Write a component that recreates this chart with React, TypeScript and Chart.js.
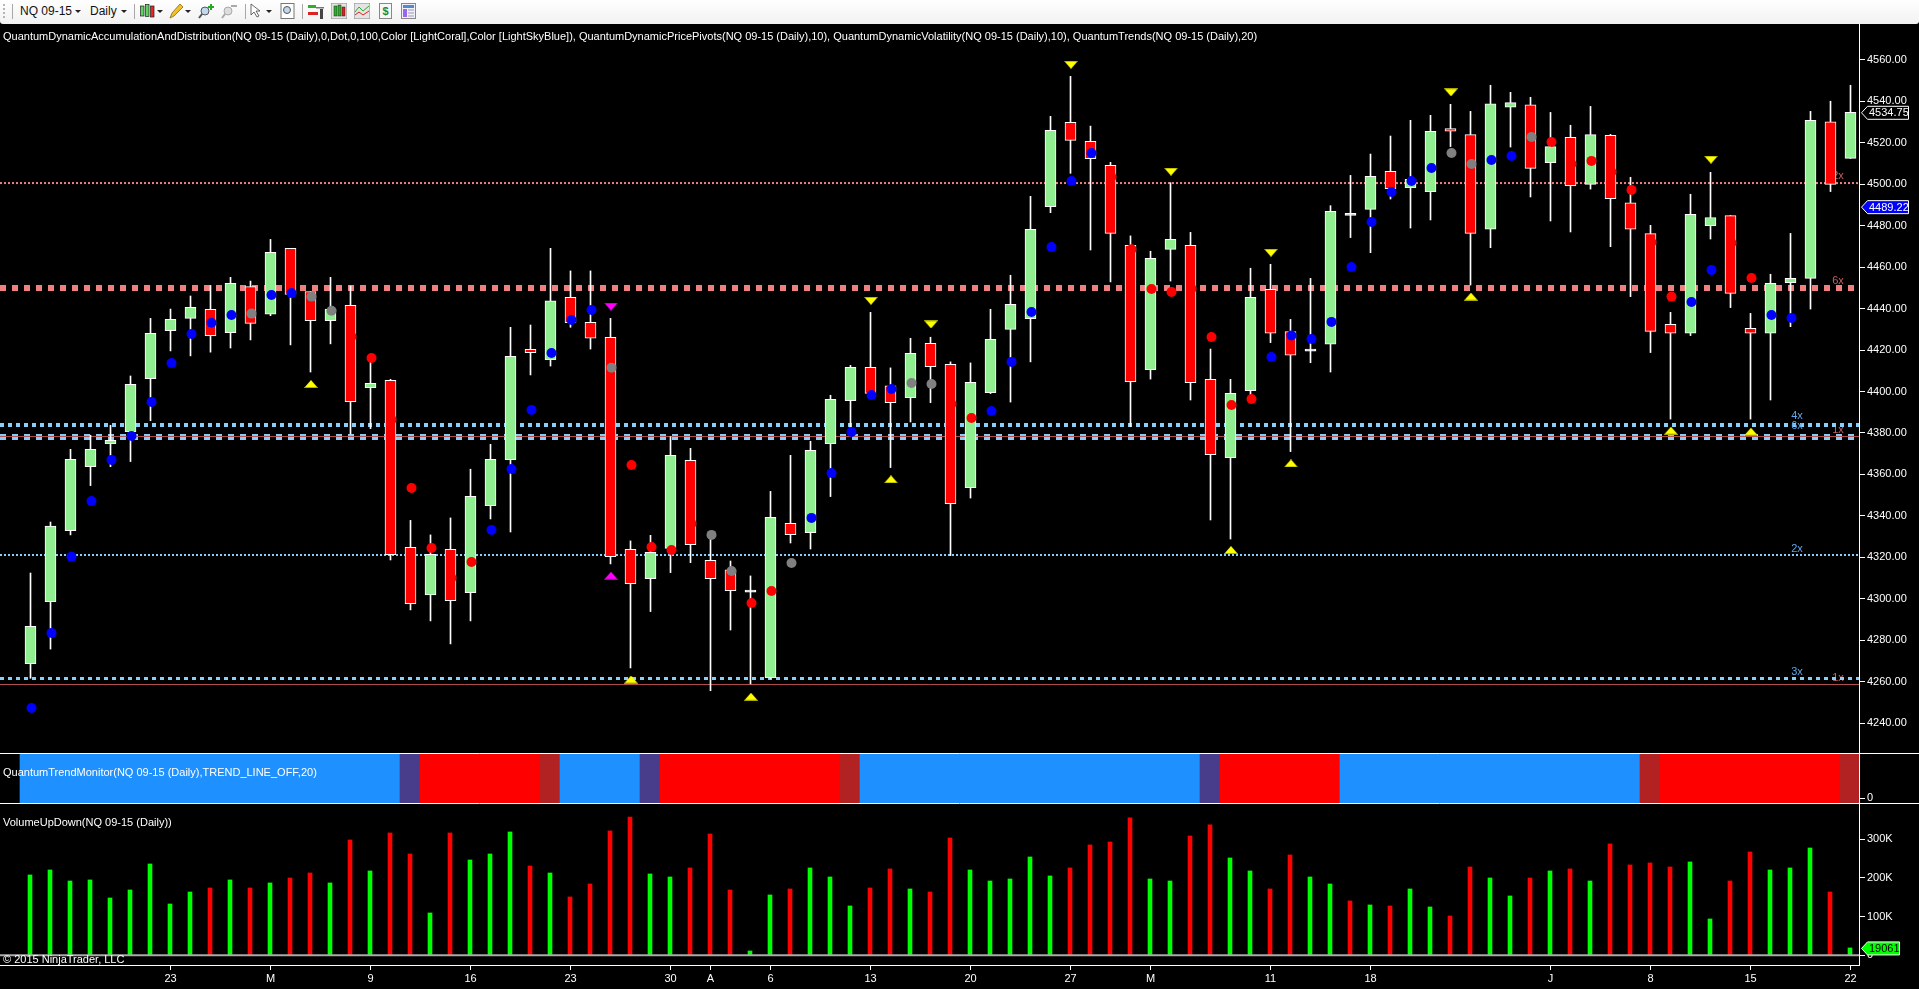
import React, { useEffect, useRef } from "react";
import { Chart, registerables } from "chart.js";

Chart.register(...registerables);

const highs = [4312.4,4337,4372.1,4378.9,4383.7,4407.5,4435.3,4439.8,4446.1,4451.2,4455.1,4453.3,4473.4,4469.1,4448.2,4455.1,4450.9,4417,4405.9,4337.8,4330.8,4339,4362.5,4374.5,4431,4432.1,4469.1,4458.2,4458.2,4435.3,4327.9,4330.6,4378.2,4372.6,4330.8,4318.2,4311,4351.8,4369.2,4376,4398.2,4412.6,4438.2,4411.4,4425.7,4426.2,4414.3,4413.8,4439.7,4456.1,4494.2,4532.8,4552.1,4528.1,4510.6,4475.1,4467.7,4500.8,4476.8,4420.5,4405.9,4459.5,4461.4,4434.8,4454.6,4489.7,4504.3,4514.6,4523.3,4530.9,4533.3,4538.6,4535.2,4547.8,4544.4,4542,4534.7,4528.5,4537.6,4524.1,4503.4,4480.2,4438.2,4495.2,4505.8,4484.9,4437.7,4456.6,4476.3,4535.2,4540.1,4547.8];
const lows = [4261.6,4275.7,4330.8,4354.6,4363.7,4366.2,4385.9,4419.6,4417.2,4419,4421,4424.9,4436.6,4422.5,4409.4,4423,4379.5,4382.1,4318.7,4294.6,4289.3,4278.2,4289.3,4338.5,4332.2,4408,4412.3,4431,4420.5,4316.8,4266.6,4293.8,4312.6,4317.4,4255.6,4284.9,4258.9,4261.3,4326.9,4324,4349.3,4381,4398,4363.3,4385.3,4394.6,4320.8,4348.6,4399,4394.9,4414.3,4486.3,4505.3,4468.3,4452.9,4383,4406,4453.3,4395.9,4338,4328.8,4398,4423.6,4371,4413.9,4409.4,4474.3,4467,4492.9,4478.9,4482.8,4518.2,4451.4,4469.4,4518,4493.9,4482.3,4477,4497.7,4469.9,4445.8,4418.8,4386.7,4427,4473.6,4440.5,4386.7,4395.9,4431.3,4439.8,4496.5,4512.5];
const opens = [4268.7,4298.6,4332.9,4363.7,4374.8,4380.6,4406.2,4429.4,4435.3,4439.7,4428.4,4450.6,4437.3,4469.1,4448.2,4434.2,4441.6,4401.9,4405.4,4324.8,4301.8,4323.8,4302.9,4344.9,4367.1,4420.4,4415.4,4445.5,4433.4,4426.2,4323.8,4309.7,4324.3,4366.8,4318.5,4313.9,4304.2,4261.9,4336.4,4331.9,4374.8,4395.6,4411.7,4402.7,4397,4423.3,4413.1,4353.6,4399.5,4430,4435.2,4489.2,4529.9,4520.7,4509.2,4470.6,4410.6,4468.6,4470.6,4405.9,4368.1,4400.4,4449.3,4428.9,4420.5,4422.8,4486,4487.9,4506.3,4498.4,4496.5,4526.9,4524,4478.3,4537.2,4538.4,4510.5,4522.7,4500,4523.6,4491.1,4476.2,4432.4,4428.1,4480,4484.9,4430.5,4428.1,4452.5,4454.6,4530.2,4512.5];
const closes = [4286.7,4335,4367.3,4372.1,4376.4,4403.5,4428.1,4434.8,4440.6,4427,4452.2,4432.9,4467.2,4446.9,4434.2,4439.8,4395.1,4404,4321.3,4297.6,4321.4,4299.1,4349.4,4367.3,4417,4418.8,4443.8,4433.2,4425.7,4320.3,4307.3,4322.4,4369.2,4326.1,4309.7,4303.9,4303.2,4339.3,4330.9,4371.6,4396.2,4411.7,4399.1,4394.6,4418.4,4412,4345.9,4404.4,4425.2,4442.1,4478.3,4526.1,4521.2,4512.4,4476.3,4404.8,4464.3,4473.4,4404.3,4369.5,4399.1,4445.5,4428.1,4417.5,4419.5,4487,4485,4503.9,4497.9,4502.4,4525.6,4525.6,4476.3,4538.9,4539.4,4507.7,4518.2,4499.4,4524,4493.1,4478.3,4429,4428.1,4485.5,4484,4447.4,4428.1,4452.2,4454.6,4530.9,4500,4534.7];

const dotValues = [4247.3,4283.5,4320.3,4347.2,4367,4378.5,4394.9,4413.8,4427.8,4433.2,4436.9,4437.6,4446.6,4447.5,4445.8,4439,4426.5,4416.2,4386.3,4353.4,4324.5,4310,4317.7,4333.2,4362.6,4391.1,4418.6,4434.5,4439.3,4411.5,4364.5,4325,4323.5,4336.2,4330.8,4313.4,4297.9,4303.7,4317.2,4339,4360.7,4380.5,4398.3,4401.2,4404.1,4403.6,4394,4387.2,4390.6,4414.3,4438.4,4469.7,4501.6,4515.1,4503.5,4468.6,4449.5,4448,4449.6,4426.3,4393.5,4396.4,4416.7,4427,4425.4,4433.6,4460.1,4481.8,4496.3,4501.6,4507.9,4515.1,4509.8,4511.7,4513.7,4522.8,4520.4,4509.8,4511.3,4505.9,4497.3,4472,4445.8,4443.2,4458.6,4471.7,4454.8,4436.9,4435.5,4464,4489.5];
const dotKinds = "BBBBBBBBBBBGBBGGRRRRRRRBBBBBBGRRRRGGRRGBBBBBGGRRBBBBBBRRRRRRRRBBBBBBBBBGGBBGRRRRRRRBBRRBB";

const pivotHighIndex = [42,45,52,57,62,71,84];
const pivotHighValue = [4443.8,4432.4,4557.7,4506.1,4467,4544.4,4511.9];
const pivotLowIndex = [14,30,36,43,60,63,72,82,86];
const pivotLowValue = [4403.6,4261,4252.7,4357.6,4323.5,4365.3,4445.8,4381.1,4380.6];
const pivotMagentaIndex = [29,29];
const pivotMagentaValue = [4441,4311.1];

const volumes = [207.6,220.5,192,194.7,148.1,168.8,236,132.6,163.6,174,194.7,174,186.9,199.8,212.7,186.9,298,217.9,316.1,261.8,109.4,316.1,246.3,261.8,318.7,230.8,212.7,150.7,184.3,321.3,357.4,210.2,202.4,225.7,313.5,168.8,11.2,155.9,171.4,225.7,202.4,127.5,174,223.1,171.4,163.6,303.2,220.5,192,197.2,254.1,205,225.7,285.1,292.8,354.9,197.2,192,308.3,336.8,251.5,217.9,171.4,259.2,202.4,184.3,140.4,130.1,127.5,171.4,124.9,101.6,228.2,199.8,153.3,199.8,217.9,223.1,192,287.7,233.4,238.6,228.2,241.2,93.9,192,267,220.5,225.7,277.3,163.6,19.061];
const volumeDirection = "GGGGGGGGGRGRGRRGRGRRGRGGGRGRRRRGGRRRGGRGGGRRGRRGGGGGRRRRGGRRGGRRGGRGRGGRRGGRGRGRRRRGGRRGGGRG";

const trendStates = "BBBBBBBBBBBBBBBBBBBPRRRRRRFBBBBPRRRRRRRRRFBBBBBBBBBBBBBBBBBPRRRRRRBBBBBBBBBBBBBBBFRRRRRRRRRF";
const trendColors: Record<string, string> = { B: "#1E90FF", P: "#483D8B", R: "#FF0000", F: "#B22222" };

const xLabelIndex = [7,12,17,22,27,32,34,37,42,47,52,56,62,67,76,81,86,91];
const xLabels = ["23","M","9","16","23","30","A","6","13","20","27","M","11","18","J","8","15","22"];
const priceTicks = [4240,4260,4280,4300,4320,4340,4360,4380,4400,4420,4440,4460,4480,4500,4520,4540,4560];
const volumeTicks = [0,100,200,300];

const lastClose = 4534.75;
const lastVolatility = 4489.22;
const lastVolume = 19.061;
const lastVolumeText = "19061";

const coralLevelDotted = 4500.6;
const coralLevelBlock = 4449.96;
const coralLevelThin = [4378.3, 4258.6];
const skyLevelA = 4383.84;
const skyLevelB = 4378.05;
const skyLevelC = 4321.1;
const skyLevelD = 4261.5;

const levelLabelsSky = [{ t: "4x", v: skyLevelA }, { t: "6x", v: skyLevelB }, { t: "2x", v: skyLevelC }, { t: "3x", v: skyLevelD }];
const levelLabelsCoral = [{ t: "2x", v: coralLevelDotted }, { t: "6x", v: coralLevelBlock }, { t: "1x", v: coralLevelThin[0] }, { t: "1x", v: coralLevelThin[1] }];

const legendText = "QuantumDynamicAccumulationAndDistribution(NQ 09-15 (Daily),0,Dot,0,100,Color [LightCoral],Color [LightSkyBlue]), QuantumDynamicPricePivots(NQ 09-15 (Daily),10), QuantumDynamicVolatility(NQ 09-15 (Daily),10), QuantumTrends(NQ 09-15 (Daily),20)";
const trendLabel = "QuantumTrendMonitor(NQ 09-15 (Daily),TREND_LINE_OFF,20)";
const volumeLabel = "VolumeUpDown(NQ 09-15 (Daily))";
const copyrightLabel = "© 2015 NinjaTrader, LLC";

const FONT = "'Liberation Sans', Arial, sans-serif";
const SKY_LABEL_LIFT = [9, 11, 6, 7];

function triangleSprite(color: string, edge: string, up: boolean) {
  const c = document.createElement("canvas");
  c.width = 14;
  c.height = 8;
  const g = c.getContext("2d")!;
  g.fillStyle = color;
  g.beginPath();
  if (up) {
    g.moveTo(7, 0); g.lineTo(14, 8); g.lineTo(0, 8);
  } else {
    g.moveTo(7, 8); g.lineTo(14, 0); g.lineTo(0, 0);
  }
  g.closePath();
  g.fill();
  g.fillStyle = edge;
  g.fillRect(1, up ? 7 : 0, 12, 1);
  return c;
}

const X_MIN = -1.525;
const X_MAX = 91.425;
const BAR_SHIFT = -0.025;
const DOT_SHIFT = 0.05;

function levelLine(v: number, color: string, width: number, dash: number[], order: number) {
  return {
    type: "line" as const,
    yAxisID: "price",
    xAxisID: "x",
    data: [{ x: X_MIN, y: v }, { x: X_MAX, y: v }],
    borderColor: color,
    borderWidth: width,
    borderDash: dash,
    pointRadius: 0,
    fill: false,
    order,
  };
}

function flag(ctx: CanvasRenderingContext2D, x: number, y: number, w: number, fill: string, stroke: string, text: string, textColor: string) {
  const h = 13;
  ctx.save();
  ctx.beginPath();
  ctx.moveTo(x + 0.5, y + 0.5);
  ctx.lineTo(x + 6.5, y - h / 2 + 0.5);
  ctx.lineTo(x + w + 0.5, y - h / 2 + 0.5);
  ctx.lineTo(x + w + 0.5, y + h / 2 + 0.5);
  ctx.lineTo(x + 6.5, y + h / 2 + 0.5);
  ctx.closePath();
  ctx.fillStyle = fill;
  ctx.fill();
  ctx.strokeStyle = stroke;
  ctx.lineWidth = 1;
  ctx.stroke();
  ctx.fillStyle = textColor;
  ctx.font = `11px ${FONT}`;
  ctx.textAlign = "left";
  ctx.textBaseline = "middle";
  ctx.fillText(text, x + 8, y + 1);
  ctx.restore();
}

const backPlugin = {
  id: "levelLabels",
  beforeDatasetsDraw(chart: any) {
    const { ctx, scales } = chart;
    ctx.save();
    ctx.font = `11px ${FONT}`;
    ctx.textAlign = "center";
    ctx.textBaseline = "middle";
    ctx.fillStyle = "#CC5C5C";
    levelLabelsCoral.forEach((l) => ctx.fillText(l.t, 1838, scales.price.getPixelForValue(l.v) - 7));
    ctx.restore();
  },
};

const frontPlugin = {
  id: "frontDecor",
  afterDatasetsDraw(chart: any) {
    const { ctx, scales, chartArea } = chart;
    ctx.save();
    ctx.font = `11px ${FONT}`;
    ctx.textAlign = "center";
    ctx.textBaseline = "middle";
    ctx.fillStyle = "#5FA5E8";
    levelLabelsSky.forEach((l, i) => ctx.fillText(l.t, 1797, scales.price.getPixelForValue(l.v) - SKY_LABEL_LIFT[i]));
    ctx.strokeStyle = "#FFFFFF";
    ctx.lineWidth = 1;
    [scales.trend.top, scales.trend.bottom].forEach((y: number) => {
      ctx.beginPath();
      ctx.moveTo(0, Math.round(y) + 0.5);
      ctx.lineTo(1919, Math.round(y) + 0.5);
      ctx.stroke();
    });
    ctx.beginPath();
    ctx.moveTo(0, Math.round(chartArea.bottom) + 0.5);
    ctx.lineTo(chartArea.right, Math.round(chartArea.bottom) + 0.5);
    ctx.stroke();
    ctx.restore();
    flag(ctx, 1861, scales.price.getPixelForValue(lastClose), 47, "#000000", "#FFFFFF", lastClose.toFixed(2), "#FFFFFF");
    flag(ctx, 1861, scales.price.getPixelForValue(lastVolatility), 47, "#0000FF", "#FFFFFF", lastVolatility.toFixed(2), "#FFFFFF");
    flag(ctx, 1861, scales.vol.getPixelForValue(lastVolume), 38, "#00FF00", "#FFFFFF", lastVolumeText, "#000000");
  },
};

function Caret({ x }: { x: number }) {
  return <div style={{ position: "absolute", left: x - 3, top: 10, width: 0, height: 0, borderLeft: "3px solid transparent", borderRight: "3px solid transparent", borderTop: "3px solid #222" }} />;
}
function Sep({ x }: { x: number }) {
  return <div style={{ position: "absolute", left: x, top: 4, width: 1, height: 15, background: "#A8A8A8" }} />;
}
function Icon({ x, w, children }: { x: number; w: number; children: React.ReactNode }) {
  return (
    <svg style={{ position: "absolute", left: x, top: 3 }} width={w} height={16} viewBox={`0 0 ${w} 16`}>
      {children}
    </svg>
  );
}

function Toolbar() {
  const label = { position: "absolute" as const, top: 3, font: `12px ${FONT}`, color: "#111", lineHeight: "16px", whiteSpace: "nowrap" as const };
  return (
    <div style={{ position: "absolute", left: 0, top: 0, width: 1919, height: 24, background: "linear-gradient(#FFFFFF,#F1F1F1)", borderRadius: "0 0 3px 3px" }}>
      <div style={{ position: "absolute", left: 3, top: 4, width: 1, height: 14, borderLeft: "2px dotted #B5B5B5" }} />
      <Sep x={12} />
      <div style={{ ...label, left: 20 }}>NQ 09-15</div>
      <Caret x={78} />
      <div style={{ ...label, left: 90 }}>Daily</div>
      <Caret x={124} />
      <Sep x={134} />
      <Icon x={140} w={15}>
        <rect x="0.5" y="3" width="3.5" height="10" fill="#5FD35F" stroke="#222" strokeWidth="0.7" />
        <rect x="5.5" y="1.5" width="3.5" height="12" fill="#5FD35F" stroke="#222" strokeWidth="0.7" />
        <rect x="10.5" y="3" width="3.5" height="11" fill="#EE2222" stroke="#222" strokeWidth="0.7" />
      </Icon>
      <Caret x={160} />
      <Icon x={169} w={15}>
        <path d="M1 15 L3 10 L11 1 L14 4 L5 13 Z" fill="#F2C029" stroke="#8A6A10" strokeWidth="0.8" />
      </Icon>
      <Caret x={188} />
      <Icon x={198} w={16}>
        <circle cx="7" cy="8" r="4" fill="#BFD8EE" stroke="#555" />
        <path d="M4 11 L1 15" stroke="#555" strokeWidth="2" />
        <path d="M13 1 V7 M10 4 H16" stroke="#22AA22" strokeWidth="2" />
      </Icon>
      <Icon x={221} w={16}>
        <circle cx="7" cy="8" r="4" fill="#DDD" stroke="#AAA" />
        <path d="M4 11 L1 15" stroke="#AAA" strokeWidth="2" />
        <path d="M10 3 H16" stroke="#AAA" strokeWidth="2" />
      </Icon>
      <Sep x={245} />
      <Icon x={250} w={13}>
        <path d="M1 1 L1 12 L4 9 L7 14 L9 13 L6 8 L10 8 Z" fill="#FFF" stroke="#444" strokeWidth="0.8" />
      </Icon>
      <Caret x={269} />
      <Icon x={280} w={15}>
        <rect x="1" y="0.5" width="13" height="15" fill="#FFF" stroke="#777" />
        <circle cx="7" cy="7" r="3.5" fill="#BFD8EE" stroke="#555" />
      </Icon>
      <Sep x={302} />
      <Icon x={308} w={16}>
        <rect x="0" y="2" width="8" height="3" fill="#2CB02C" />
        <rect x="0" y="9" width="10" height="3" fill="#DD2222" />
        <rect x="12" y="6" width="3" height="10" fill="#444" />
        <rect x="8" y="4" width="8" height="1.5" fill="#777" />
      </Icon>
      <Icon x={331} w={16}>
        <rect x="0" y="0" width="16" height="16" fill="#E4E4E4" stroke="#888" />
        <rect x="3" y="3" width="3" height="10" fill="#2CB02C" stroke="#222" strokeWidth="0.5" />
        <rect x="7" y="2" width="3" height="11" fill="#2CB02C" stroke="#222" strokeWidth="0.5" />
        <rect x="11" y="4" width="3" height="9" fill="#DD2222" stroke="#222" strokeWidth="0.5" />
      </Icon>
      <Icon x={354} w={16}>
        <rect x="0" y="0" width="16" height="16" fill="#E4E4E4" stroke="#888" />
        <path d="M1 9 L5 4 L9 8 L15 3" stroke="#2CB02C" fill="none" />
        <path d="M1 12 L5 9 L9 12 L15 8" stroke="#DD2222" fill="none" />
      </Icon>
      <Icon x={379} w={13}>
        <rect x="0.5" y="0.5" width="12" height="15" fill="#F7F7F7" stroke="#888" />
        <text x="6.5" y="12" fontSize="11" fontWeight="bold" textAnchor="middle" fill="#1F8A2F" fontFamily={FONT}>$</text>
      </Icon>
      <Icon x={401} w={15}>
        <rect x="0.5" y="0.5" width="14" height="15" fill="#F0F0F8" stroke="#888" />
        <rect x="2" y="2" width="11" height="3" fill="#5588CC" />
        <rect x="2" y="6" width="4" height="8" fill="#9966EE" />
        <path d="M7 7 H13 M7 10 H13 M7 13 H13" stroke="#9999BB" />
      </Icon>
    </div>
  );
}

export default function App() {
  const ref = useRef<HTMLCanvasElement | null>(null);

  useEffect(() => {
    if (!ref.current) return;
    const idx = highs.map((_, i) => i);
    const bodyColor = (i: number) => {
      if (Math.abs(closes[i] - opens[i]) <= 1.01) return "#FFFFFF";
      return closes[i] > opens[i] ? "#90EE90" : "#FF0000";
    };
    const dotSet = (kind: string, color: string) => ({
      type: "line" as const,
      yAxisID: "price",
      xAxisID: "x",
      showLine: false,
      data: dotValues.map((v, i) => ({ x: i + DOT_SHIFT, y: v, k: dotKinds[i] })).filter((p) => p.k === kind),
      pointStyle: "circle" as const,
      pointRadius: 5,
      pointBackgroundColor: color,
      pointBorderWidth: 0,
      order: 1,
    });
    const triSet = (index: number[], values: number[], sprites: any) => ({
      type: "line" as const,
      yAxisID: "price",
      xAxisID: "x",
      showLine: false,
      data: index.map((x, i) => ({ x: x + DOT_SHIFT / 2, y: values[i] })),
      pointStyle: sprites,
      pointRadius: 7,
      order: 2,
    });
    const yellowDown = triangleSprite("#FFFF00", "#A8A800", false);
    const yellowUp = triangleSprite("#FFFF00", "#A8A800", true);
    const magentaDown = triangleSprite("#FF00FF", "#A800A8", false);
    const magentaUp = triangleSprite("#FF00FF", "#A800A8", true);

    const datasets: any[] = [
      {
        type: "bar",
        yAxisID: "trend",
        xAxisID: "x",
        data: idx.map((i) => ({ x: i + BAR_SHIFT, y: [-5, 45] })),
        backgroundColor: idx.map((i) => trendColors[trendStates[i]]),
        barThickness: 20,
        grouped: false,
        borderWidth: 0,
        order: 10,
      },
      {
        type: "bar",
        yAxisID: "vol",
        xAxisID: "x",
        data: idx.map((i) => ({ x: i + BAR_SHIFT, y: volumes[i] })),
        backgroundColor: idx.map((i) => (volumeDirection[i] === "G" ? "#00FF00" : "#FF0000")),
        barThickness: 4,
        grouped: false,
        borderWidth: 0,
        order: 9,
      },
      {
        type: "line",
        yAxisID: "vol",
        xAxisID: "x",
        data: [{ x: X_MIN, y: 0 }, { x: X_MAX, y: 0 }],
        borderColor: "#AAAAAA",
        borderWidth: 2,
        pointRadius: 0,
        order: 8,
      },
      levelLine(coralLevelDotted, "#F08080", 2, [2, 2], 7),
      levelLine(coralLevelBlock, "#F08080", 6, [6, 6], 7),
      levelLine(skyLevelA, "#87CEFA", 4, [4, 4], 7),
      levelLine(skyLevelB, "#87CEFA", 6, [6, 6], 7),
      levelLine(skyLevelC, "#87CEFA", 2, [2, 2], 7),
      levelLine(skyLevelD, "#87CEFA", 3, [4, 4], 7),
      levelLine(coralLevelThin[0], "#B45050", 1, [], 6),
      levelLine(coralLevelThin[1], "#B45050", 1, [], 6),
      {
        type: "bar",
        yAxisID: "price",
        xAxisID: "x",
        data: idx.map((i) => ({ x: i, y: [lows[i], highs[i]] })),
        backgroundColor: "#FFFFFF",
        barThickness: 1,
        grouped: false,
        borderWidth: 0,
        order: 5,
      },
      {
        type: "bar",
        yAxisID: "price",
        xAxisID: "x",
        data: idx.map((i) => ({ x: i, y: [opens[i], closes[i]] })),
        backgroundColor: idx.map(bodyColor),
        borderColor: "#FFFFFF",
        borderWidth: 1,
        borderSkipped: false,
        barThickness: 11,
        grouped: false,
        order: 4,
      },
      dotSet("B", "#0000FF"),
      dotSet("R", "#FF0000"),
      dotSet("G", "#808080"),
      triSet(pivotHighIndex, pivotHighValue, yellowDown),
      triSet(pivotLowIndex, pivotLowValue, yellowUp),
      triSet(pivotMagentaIndex.slice(0, 1), pivotMagentaValue.slice(0, 1), magentaDown),
      triSet(pivotMagentaIndex.slice(1), pivotMagentaValue.slice(1), magentaUp),
    ];

    const tickFont = { family: FONT, size: 11 };
    const yAxis = (min: number, max: number, weight: number, ticks: number[], fmt: (v: number) => string) => ({
      type: "linear" as const,
      position: "right" as const,
      stack: "panes",
      stackWeight: weight,
      min,
      max,
      afterFit: (s: any) => { s.width = 60; s.paddingTop = 0; s.paddingBottom = 0; },
      afterBuildTicks: (s: any) => { s.ticks = ticks.map((value) => ({ value })); },
      border: { color: "#FFFFFF", width: 1 },
      grid: { drawOnChartArea: false, drawTicks: true, tickLength: 6, color: "#FFFFFF" },
      ticks: { color: "#FFFFFF", font: tickFont, padding: 2, autoSkip: false, includeBounds: false, callback: (v: any) => fmt(Number(v)) },
    });

    const chart = new Chart(ref.current, {
      type: "bar",
      data: { datasets },
      plugins: [backPlugin, frontPlugin],
      options: {
        animation: false,
        responsive: false,
        devicePixelRatio: 1,
        layout: { autoPadding: false, padding: { top: 24, left: 0, right: 0, bottom: 0 } },
        plugins: { legend: { display: false }, tooltip: { enabled: false } },
        events: [],
        elements: { line: { tension: 0 } },
        scales: {
          x: {
            type: "linear",
            min: X_MIN,
            max: X_MAX,
            offset: false,
            afterFit: (s: any) => { s.height = 24; s.paddingLeft = 0; s.paddingRight = 0; },
            afterBuildTicks: (s: any) => { s.ticks = xLabelIndex.map((value) => ({ value })); },
            border: { color: "#FFFFFF", width: 1 },
            grid: { drawOnChartArea: false, drawTicks: true, tickLength: 5, color: "#FFFFFF", offset: false },
            ticks: {
              color: "#FFFFFF",
              font: tickFont,
              padding: 2,
              autoSkip: false,
              maxRotation: 0,
              minRotation: 0,
              includeBounds: false,
              callback: (v: any) => xLabels[xLabelIndex.indexOf(Number(v))] ?? "",
            },
          },
          price: yAxis(4225.54, 4577.37, 729, priceTicks, (v) => v.toFixed(2)),
          trend: yAxis(-5, 45, 50, [0], () => "0"),
          vol: yAxis(-25.06, 393.5, 162, volumeTicks, (v) => (v === 0 ? "0" : `${v}K`)),
        },
      } as any,
    });
    return () => chart.destroy();
  }, []);

  const note = { position: "absolute" as const, left: 3, color: "#FFFFFF", font: `11px ${FONT}`, lineHeight: "14px", whiteSpace: "nowrap" as const };
  return (
    <div style={{ position: "fixed", left: 0, top: 0, width: 1919, height: 989, background: "#000", overflow: "hidden" }}>
      <canvas ref={ref} width={1919} height={989} style={{ position: "absolute", left: 0, top: 0, width: 1919, height: 989, display: "block" }} />
      <Toolbar />
      <div style={{ ...note, top: 29 }}>{legendText}</div>
      <div style={{ ...note, top: 765 }}>{trendLabel}</div>
      <div style={{ ...note, top: 815 }}>{volumeLabel}</div>
      <div style={{ ...note, top: 952 }}>{copyrightLabel}</div>
    </div>
  );
}
